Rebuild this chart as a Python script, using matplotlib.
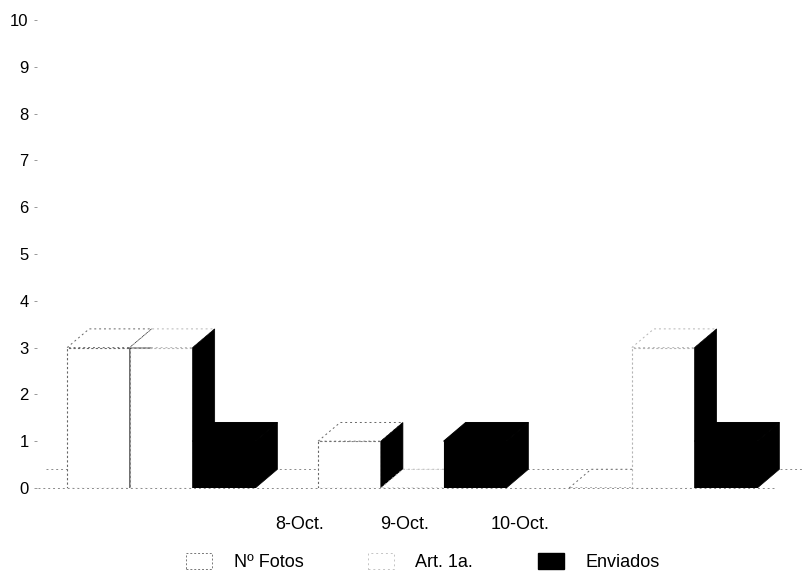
import numpy as np
from matplotlib import pyplot as plt
from matplotlib.patches import Polygon, Patch

plt.rcParams['font.family'] = ['Liberation Sans', 'DejaVu Sans']

categories = ['8-Oct.', '9-Oct.', '10-Oct.']
fotos = [3, 1, 0]
art = [3, 0, 3]
enviados = [1, 1, 1]
y_ticks = [0, 1, 2, 3, 4, 5, 6, 7, 8, 9, 10]

W, H = 808, 576
bar_w = 0.25
dx = 0.088   # 3d depth, x units
dy = 0.4     # 3d depth, y units
# the labels in the original sit off the bars
label_pos = [0.55, 0.97, 1.43]

fig = plt.figure(figsize=(W / 100, H / 100), dpi=100)
ax = fig.add_axes([37 / W, 1 - 488 / H, (W - 37) / W, 468 / H])
ax.set_xlim(-0.495, 2.577)
ax.set_ylim(0, 10)
ax.patch.set_visible(False)
for s in ax.spines.values():
    s.set_visible(False)

edge = '#8a8a8a'
dots = dict(color=edge, lw=0.7, ls=(0, (2, 3)), clip_on=False)

# floor of the chart
ax.plot([-0.46, 2.56], [dy, dy], zorder=1, **dots)
ax.plot([-0.49, 2.45], [0, 0], zorder=1, **dots)


def box(x, v, face, line, z):
    ax.bar(x, v, bar_w, align='edge', color=face, edgecolor=line, lw=0.8,
           ls=(0, (2, 2)) if face == 'white' else '-', zorder=z)
    top = [(x, v), (x + dx, v + dy), (x + bar_w + dx, v + dy), (x + bar_w, v)]
    ax.add_patch(Polygon(top, closed=True, facecolor=face, edgecolor=line,
                         lw=0.7, ls=(0, (2, 3)) if face == 'white' else '-', zorder=z))
    if v > 0 or face == 'black':
        side = [(x + bar_w, 0), (x + bar_w + dx, dy), (x + bar_w + dx, v + dy), (x + bar_w, v)]
        ax.add_patch(Polygon(side, closed=True, facecolor='black', edgecolor='black',
                             lw=0.5, zorder=z))


for g in range(len(categories)):
    x0 = g - 1.5 * bar_w
    box(x0, fotos[g], 'white', '#666666', 3 + g)
    box(x0 + bar_w, art[g], 'white', '#b5b5b5', 3 + g + 0.1)
    box(x0 + 2 * bar_w, enviados[g], 'black', 'black', 3 + g + 0.2)

ax.set_yticks(y_ticks)
ax.tick_params(axis='y', length=2, width=0.6, color='#888888', pad=4, labelsize=12)
ax.set_xticks(label_pos)
ax.set_xticklabels(categories)
ax.tick_params(axis='x', length=0, pad=20, labelsize=13)

handles = [Patch(facecolor='white', edgecolor='#777777', lw=0.7, ls=(0, (2, 2))),
           Patch(facecolor='white', edgecolor='#c4c4c4', lw=0.7, ls=(0, (2, 3))),
           Patch(facecolor='black', edgecolor='black')]
ax.legend(handles, ['Nº Fotos', 'Art. 1a.', 'Enviados'], ncol=3, frameon=False,
          loc='center', bbox_to_anchor=(423 / W, 1 - 562 / H), bbox_transform=fig.transFigure,
          fontsize=13, handlelength=1.44, handleheight=1.0, handletextpad=1.17, columnspacing=3.6)

fig.savefig('out.png', dpi=100)
